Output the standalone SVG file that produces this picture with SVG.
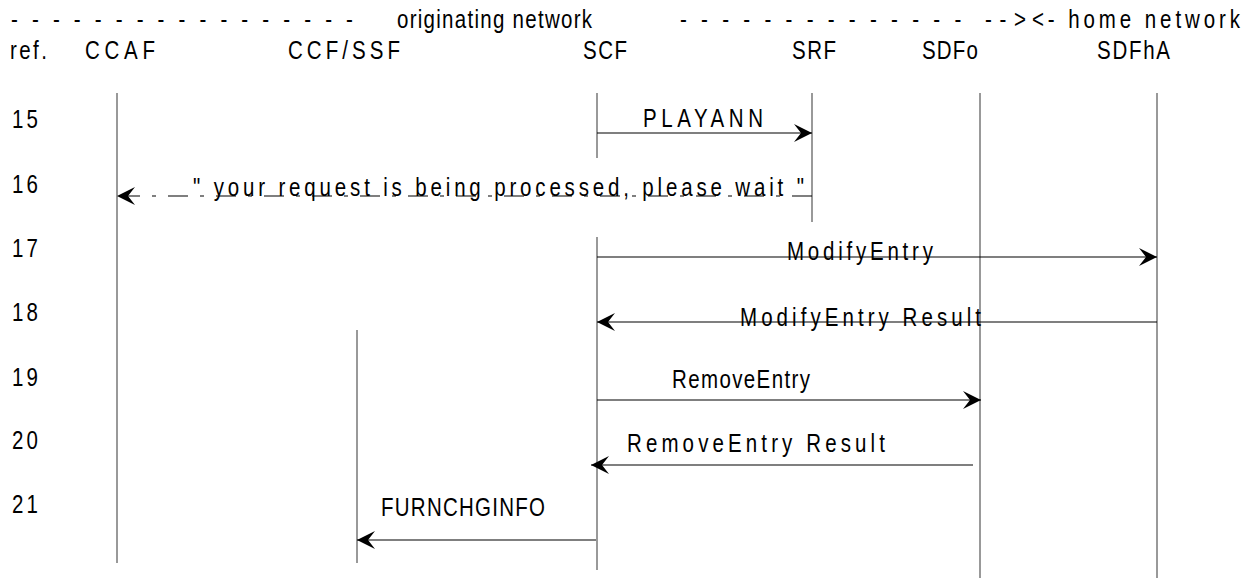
<svg xmlns="http://www.w3.org/2000/svg" width="1247" height="581" viewBox="0 0 1247 581">
<style>
  .t{font-family:"Liberation Sans","DejaVu Sans",Arial,sans-serif;font-size:25px;fill:#000}
  .life{stroke:#6e6e6e;stroke-width:1.4;fill:none}
  .msg{stroke:#000;stroke-width:1.2;fill:none;marker-end:url(#ah)}
  .dash{stroke-dasharray:20 12 4 12}
</style>
<defs>
  <marker id="ah" viewBox="-19 -10 20 20" refX="0" refY="0" markerWidth="20" markerHeight="20" markerUnits="userSpaceOnUse" orient="auto">
    <path d="M0,0 L-18,-9 L-11,0 L-18,9 Z" fill="#000"/>
  </marker>
</defs>
<rect width="1247" height="581" fill="#fff"/>

<g id="header">
  <text class="t" transform="translate(11,28) scale(0.82,1)" textLength="417" lengthAdjust="spacing">- - - - - - - - - - - - - - - - -</text>
  <text class="t" transform="translate(397,28) scale(0.82,1)" textLength="237.8" lengthAdjust="spacing">originating network</text>
  <text class="t" transform="translate(680,28) scale(0.82,1)" textLength="343" lengthAdjust="spacing">- - - - - - - - - - - - - -</text>
  <text class="t" transform="translate(985,28) scale(0.82,1)" textLength="50" lengthAdjust="spacing">--&gt;</text>
  <text class="t" transform="translate(1032,28) scale(0.82,1)" textLength="253.7" lengthAdjust="spacing">&lt;- home network</text>
  <text class="t" transform="translate(10,59) scale(0.82,1)" textLength="45.1" lengthAdjust="spacing">ref.</text>
</g>

<g id="rows">
  <text class="t" transform="translate(12,128) scale(0.82,1)" textLength="31.7" lengthAdjust="spacing">15</text>
  <text class="t" transform="translate(12,193) scale(0.82,1)" textLength="31.7" lengthAdjust="spacing">16</text>
  <text class="t" transform="translate(12,257) scale(0.82,1)" textLength="31.7" lengthAdjust="spacing">17</text>
  <text class="t" transform="translate(12,321) scale(0.82,1)" textLength="31.7" lengthAdjust="spacing">18</text>
  <text class="t" transform="translate(12,386) scale(0.82,1)" textLength="31.7" lengthAdjust="spacing">19</text>
  <text class="t" transform="translate(12,449) scale(0.82,1)" textLength="31.7" lengthAdjust="spacing">20</text>
  <text class="t" transform="translate(12,513) scale(0.82,1)" textLength="31.7" lengthAdjust="spacing">21</text>
</g>

<g id="CCAF">
  <text class="t" transform="translate(85,59) scale(0.82,1)" textLength="85.4" lengthAdjust="spacing">CCAF</text>
  <line class="life" x1="117" y1="93" x2="117" y2="563"/>
</g>
<g id="CCF_SSF">
  <text class="t" transform="translate(288,59) scale(0.82,1)" textLength="136.6" lengthAdjust="spacing">CCF/SSF</text>
  <line class="life" x1="357" y1="330" x2="357" y2="563"/>
</g>
<g id="SCF">
  <text class="t" transform="translate(583,59) scale(0.82,1)" textLength="53.7" lengthAdjust="spacing">SCF</text>
  <line class="life" x1="597" y1="93" x2="597" y2="158"/>
  <line class="life" x1="597" y1="237" x2="597" y2="570"/>
</g>
<g id="SRF">
  <text class="t" transform="translate(792,59) scale(0.82,1)" textLength="53.7" lengthAdjust="spacing">SRF</text>
  <line class="life" x1="812" y1="93" x2="812" y2="222"/>
</g>
<g id="SDFo">
  <text class="t" transform="translate(922,59) scale(0.82,1)" textLength="68.3" lengthAdjust="spacing">SDFo</text>
  <line class="life" x1="980" y1="93" x2="980" y2="578"/>
</g>
<g id="SDFhA">
  <text class="t" transform="translate(1097,59) scale(0.82,1)" textLength="89" lengthAdjust="spacing">SDFhA</text>
  <line class="life" x1="1157" y1="93" x2="1157" y2="578"/>
</g>

<g id="connectors">
  <path class="msg" d="M597,133 H812"/>
  <path class="msg dash" d="M812,196 H117"/>
  <path class="msg" d="M597,257 H1157"/>
  <path class="msg" d="M1157,322 H597"/>
  <path class="msg" d="M597,400 H981"/>
  <path class="msg" d="M973,465 H591"/>
  <path class="msg" d="M596,540 H357"/>
</g>

<g id="labels">
  <text class="t" transform="translate(643,127) scale(0.82,1)" textLength="146.3" lengthAdjust="spacing">PLAYANN</text>
  <text class="t" transform="translate(193,196) scale(0.82,1)" font-size="24" textLength="745.1" lengthAdjust="spacing">" your request is being processed, please wait "</text>
  <text class="t" transform="translate(787,260) scale(0.82,1)" textLength="178" lengthAdjust="spacing">ModifyEntry</text>
  <text class="t" transform="translate(740,326) scale(0.82,1)" textLength="293.9" lengthAdjust="spacing">ModifyEntry  Result</text>
  <text class="t" transform="translate(672,388) scale(0.82,1)" textLength="168.3" lengthAdjust="spacing">RemoveEntry</text>
  <text class="t" transform="translate(627,452) scale(0.82,1)" textLength="314.6" lengthAdjust="spacing">RemoveEntry Result</text>
  <text class="t" transform="translate(381,516) scale(0.82,1)" textLength="200" lengthAdjust="spacing">FURNCHGINFO</text>
</g>
</svg>
